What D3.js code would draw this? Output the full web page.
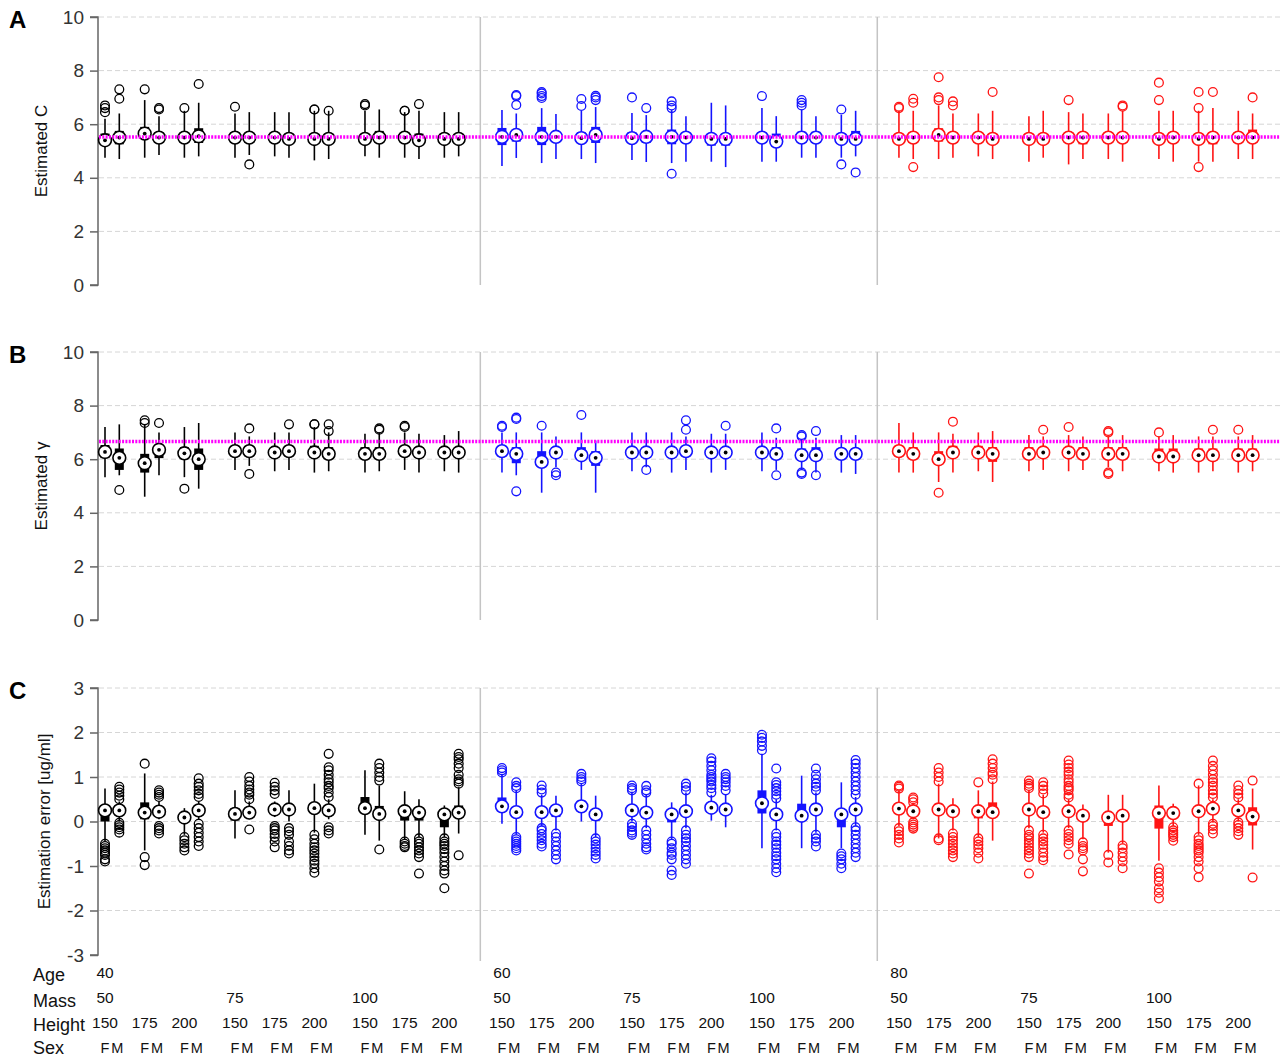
<!DOCTYPE html>
<html><head><meta charset="utf-8">
<script src="https://cdn.jsdelivr.net/npm/d3@7"></script>
<style>
body{margin:0;background:#fff}
svg{display:block;font-family:"Liberation Sans",Arial,Helvetica,sans-serif}
</style>
</head><body><div id="chart"></div><script>
// Factor levels (order: age > mass > height > sex)
const ages = [40, 60, 80];
const masses = [50, 75, 100];
const heights = [150, 175, 200];
const sexes = ["F", "M"];
const ageColors = ["#000000", "#1414ff", "#ff1414"];

// ---- Panel A: estimated C ----
const cMed = [5.4,5.5,5.65,5.5,5.5,5.55, 5.5,5.5,5.5,5.45,5.45,5.45, 5.45,5.5,5.5,5.4,5.45,5.45,
              5.53,5.6,5.53,5.53,5.48,5.6, 5.48,5.53,5.53,5.5,5.45,5.45, 5.5,5.35,5.5,5.5,5.45,5.45,
              5.45,5.5,5.6,5.5,5.5,5.45, 5.45,5.45,5.5,5.5,5.5,5.5, 5.45,5.5,5.45,5.5,5.5,5.5];
const cQ1 = [5.25,5.25,5.45,5.3,5.3,5.3, 5.3,5.3,5.35,5.3,5.3,5.3, 5.3,5.35,5.3,5.25,5.3,5.3,
             5.22,5.35,5.22,5.35,5.3,5.3, 5.3,5.3,5.25,5.3,5.2,5.2, 5.3,5.25,5.3,5.3,5.3,5.3,
             5.3,5.3,5.35,5.3,5.3,5.3, 5.3,5.3,5.3,5.25,5.3,5.3, 5.3,5.3,5.3,5.25,5.3,5.3];
const cQ3 = [5.65,5.75,5.9,5.7,5.7,5.85, 5.7,5.65,5.65,5.65,5.6,5.65, 5.6,5.75,5.65,5.65,5.65,5.6,
             5.86,5.72,5.9,5.7,5.7,5.9, 5.7,5.68,5.8,5.65,5.6,5.65, 5.7,5.65,5.72,5.72,5.65,5.75,
             5.65,5.7,5.85,5.7,5.65,5.65, 5.65,5.6,5.7,5.65,5.7,5.7, 5.65,5.7,5.65,5.7,5.7,5.8];
const cLo = [4.75,4.7,4.75,4.85,4.75,4.8, 4.75,4.85,4.8,4.75,4.65,4.7, 4.8,4.75,4.75,4.7,4.75,4.8,
             4.44,4.74,4.55,4.7,4.7,4.55, 4.66,4.59,4.55,4.6,4.6,4.4, 4.6,4.6,4.75,4.75,4.75,4.8,
             4.75,4.7,4.7,4.75,4.8,4.7, 4.6,4.75,4.5,4.7,4.7,4.6, 4.7,4.6,4.6,4.6,4.7,4.7];
const cHi = [6.2,6.4,6.9,6.3,6.5,6.8, 6.4,6.45,6.45,6.45,6.5,6.5, 6.5,6.55,6.45,6.5,6.45,6.45,
             6.53,6.4,6.6,6.38,6.5,6.64, 6.42,6.34,6.53,6.3,6.8,6.7, 6.6,6.3,6.55,6.3,6.35,6.5,
             6.5,6.5,6.7,6.4,6.4,6.5, 6.3,6.5,6.45,6.4,6.4,6.5, 6.5,6.5,6.5,6.6,6.5,6.4];
const cOut = [[6.45,6.6,6.7],[6.95,7.3],[7.3],[6.55,6.6],[6.6],[7.5],
              [6.65],[4.5],[],[],[6.55,6.55],[6.5],
              [6.7,6.75],[],[6.5,6.5],[6.75],[],[],
              [],[6.72,7.05,7.09],[6.98,7.05,7.15,7.2],[],[6.68,6.94],[6.9,7.0,7.06],
              [7.0],[6.6],[6.6,6.7,6.85,4.15],[],[],[],
              [7.05],[],[6.7,6.8,6.9],[],[6.55,4.5],[4.2],
              [6.6,6.65],[6.8,6.95,4.4],[6.9,7.0,7.75],[6.7,6.85],[],[7.2],
              [],[],[6.9],[],[],[6.65,6.7],
              [6.9,7.55],[],[6.6,7.2,4.4],[7.2],[],[7.0]];
const cTrue = 5.52;

// ---- Panel B: estimated gamma ----
const gMed = [6.27,6.05,5.85,6.35,6.22,6.0, 6.3,6.3,6.25,6.3,6.25,6.2, 6.2,6.2,6.3,6.25,6.25,6.25,
              6.3,6.2,5.9,6.25,6.15,6.05, 6.25,6.25,6.25,6.3,6.25,6.25, 6.25,6.2,6.15,6.15,6.2,6.2,
              6.3,6.2,6.0,6.25,6.25,6.2, 6.2,6.25,6.25,6.2,6.2,6.2, 6.1,6.1,6.15,6.15,6.15,6.15];
const gQ1 = [6.04,5.6,5.5,6.04,6.0,5.6, 6.1,6.1,6.05,6.1,6.05,6.0, 6.0,6.0,6.1,6.05,6.05,6.05,
             6.1,5.85,5.7,6.05,6.0,5.75, 6.05,6.05,6.05,6.1,6.05,6.05, 6.05,6.0,5.95,5.95,6.0,6.0,
             6.1,6.0,5.8,6.05,6.05,5.9, 6.0,6.05,6.05,6.0,6.0,6.0, 5.95,5.95,5.95,5.95,5.95,5.95];
const gQ3 = [6.53,6.4,6.2,6.46,6.45,6.4, 6.5,6.5,6.45,6.5,6.5,6.45, 6.45,6.45,6.5,6.45,6.45,6.45,
             6.5,6.45,6.3,6.45,6.45,6.3, 6.45,6.45,6.45,6.5,6.45,6.45, 6.45,6.45,6.4,6.45,6.4,6.4,
             6.5,6.45,6.3,6.5,6.5,6.45, 6.45,6.45,6.45,6.45,6.45,6.45, 6.4,6.4,6.4,6.4,6.4,6.4];
const gLo = [5.33,5.4,4.6,5.4,5.33,4.9, 5.6,5.75,5.55,5.6,5.5,5.55, 5.5,5.55,5.6,5.5,5.55,5.5,
             5.5,5.4,4.75,5.7,5.6,4.75, 5.55,5.7,5.5,5.6,5.5,5.6, 5.55,5.6,5.6,5.5,5.5,5.45,
             5.5,5.5,5.15,5.5,5.55,5.15, 5.55,5.6,5.55,5.6,5.7,5.55, 5.55,5.5,5.5,5.55,5.5,5.55];
const gHi = [7.2,7.3,7.3,7.0,7.2,7.35, 7.0,6.85,7.0,7.0,7.2,7.0, 6.95,7.0,7.0,6.95,6.9,7.05,
             7.0,7.0,7.0,6.85,7.0,6.7, 7.0,7.0,7.0,6.85,6.95,6.95, 7.0,6.8,6.75,6.8,6.9,6.9,
             7.35,7.0,7.0,6.95,7.0,7.05, 6.9,6.85,6.9,6.85,6.85,6.9, 6.85,6.9,6.85,6.85,6.85,6.9];
const gOut = [[],[4.85],[7.45,7.35],[7.35],[4.9],[],
              [],[7.15,5.45],[],[7.3],[7.3,7.3],[7.3,7.05],
              [],[7.15,7.1],[7.2,7.25],[],[],[],
              [7.2,7.25],[7.5,7.55,4.8],[7.25],[5.5,5.4],[7.65],[],
              [],[5.6],[],[7.1,7.45],[],[7.25],
              [],[7.15,5.4],[6.85,6.9,5.45,5.5],[7.05,5.4],[],[],
              [],[],[4.75],[7.4],[],[],
              [],[7.1],[7.2],[],[7.0,7.05,5.5,5.45],[],
              [7.0],[],[],[7.1],[7.1],[]];
const gTrue = 6.66;

// ---- Panel C: estimation error ----
const eMed = [0.25,0.25,0.2,0.22,0.09,0.25, 0.17,0.2,0.27,0.27,0.3,0.25, 0.3,0.17,0.23,0.2,0.16,0.2,
              0.34,0.21,0.21,0.25,0.34,0.16, 0.25,0.2,0.16,0.23,0.31,0.27, 0.41,0.16,0.13,0.27,0.16,0.27,
              0.29,0.23,0.27,0.23,0.23,0.21, 0.27,0.21,0.23,0.13,0.09,0.13, 0.19,0.19,0.23,0.29,0.25,0.11];
const eQ1 = [0.0,0.2,0.05,0.15,0.0,0.15, 0.02,0.15,0.2,0.2,0.2,0.2, 0.25,0.1,0.02,0.02,-0.13,0.13,
             0.3,0.15,0.15,0.1,0.3,0.02, 0.2,0.15,-0.02,0.15,0.25,0.2, 0.18,0.1,0.02,0.2,-0.13,0.2,
             0.2,0.2,0.15,0.15,0.07,0.15, 0.2,0.15,0.15,0.05,-0.1,0.0, -0.16,0.1,0.15,0.2,0.18,-0.09];
const eQ3 = [0.3,0.3,0.43,0.3,0.15,0.3, 0.3,0.28,0.35,0.35,0.38,0.3, 0.55,0.35,0.3,0.28,0.22,0.36,
             0.54,0.3,0.3,0.3,0.47,0.25, 0.3,0.28,0.22,0.3,0.38,0.35, 0.7,0.25,0.4,0.4,0.22,0.35,
             0.35,0.3,0.4,0.3,0.3,0.43, 0.35,0.3,0.3,0.2,0.15,0.2, 0.36,0.28,0.3,0.35,0.3,0.32];
const eLo = [-0.45,0.0,-0.65,0.05,-0.3,0.05, -0.38,0.05,0.1,0.0,-0.25,0.05, -0.3,-0.43,-0.4,-0.35,-0.35,-0.27,
             -0.05,-0.3,-0.1,-0.2,0.0,-0.35, 0.0,-0.15,-0.4,-0.15,0.02,-0.13, -0.6,-0.2,-0.6,-0.25,-0.6,-0.1,
             -0.1,0.05,-0.38,-0.2,-0.35,-0.43, -0.15,-0.25,-0.15,-0.4,-0.7,-0.5, -0.88,-0.1,-0.3,-0.02,0.0,-0.63];
const eHi = [0.74,0.45,1.08,0.45,0.3,0.45, 0.7,0.45,0.45,0.7,0.85,0.5, 1.15,0.81,0.68,0.5,0.36,0.77,
             1.05,0.7,0.6,0.58,0.85,0.58, 0.65,0.6,0.43,0.65,0.6,0.6, 1.52,0.5,1.03,0.65,0.88,0.55,
             0.7,0.4,0.85,0.52,0.7,0.9, 0.7,0.6,0.5,0.38,0.6,0.6, 0.81,0.4,0.81,0.5,0.5,0.74];
const eOut = [
  [-0.5,-0.55,-0.6,-0.65,-0.7,-0.75,-0.85,-0.9],
  [0.5,0.58,0.65,0.72,0.78,-0.03,-0.08,-0.13,-0.18,-0.25],
  [1.3,-0.8,-0.98],
  [0.55,0.6,0.65,0.7,-0.1,-0.15,-0.2,-0.27],
  [-0.35,-0.42,-0.5,-0.58,-0.65],
  [0.55,0.62,0.7,0.78,0.85,0.97,-0.05,-0.15,-0.25,-0.35,-0.45,-0.55],
  [],
  [0.5,0.6,0.65,0.72,0.8,0.9,1.0,-0.18],
  [0.62,0.7,0.78,0.87,-0.1,-0.15,-0.2,-0.28,-0.35,-0.45,-0.58],
  [-0.15,-0.22,-0.3,-0.45,-0.55,-0.65,-0.72],
  [-0.3,-0.4,-0.5,-0.58,-0.65,-0.72,-0.8,-0.88,-0.95,-1.05,-1.15],
  [0.55,0.65,0.75,0.8,0.88,0.95,1.05,1.15,1.22,1.52,-0.13,-0.2,-0.27],
  [],
  [0.92,1.0,1.1,1.2,1.3,-0.63],
  [-0.45,-0.5,-0.55,-0.58],
  [-0.38,-0.45,-0.5,-0.58,-0.65,-0.72,-0.8,-1.17],
  [-0.38,-0.45,-0.5,-0.55,-0.62,-0.7,-0.8,-0.9,-1.0,-1.1,-1.17,-1.5],
  [0.85,0.9,0.95,1.05,1.2,1.3,1.4,1.45,1.52,-0.76],
  [1.1,1.15,1.2],
  [0.75,0.8,0.88,-0.35,-0.4,-0.45,-0.5,-0.55,-0.6,-0.65],
  [0.65,0.72,0.81,-0.15,-0.2,-0.28,-0.35,-0.42,-0.5,-0.56],
  [-0.27,-0.35,-0.45,-0.55,-0.65,-0.75,-0.85],
  [0.9,0.95,1.0,1.07],
  [-0.38,-0.45,-0.52,-0.6,-0.68,-0.75,-0.83],
  [0.7,0.75,0.81,-0.05,-0.12,-0.2,-0.25,-0.3],
  [0.65,0.7,0.8,-0.2,-0.3,-0.4,-0.5,-0.58,-0.63],
  [-0.45,-0.5,-0.6,-0.7,-0.75,-0.85,-1.1,-1.2],
  [0.7,0.78,0.85,-0.2,-0.3,-0.38,-0.45,-0.55,-0.65,-0.75,-0.85,-0.95],
  [0.65,0.75,0.82,0.9,0.95,1.0,1.05,1.15,1.25,1.35,1.42],
  [0.7,0.8,0.88,0.95,1.0,1.07],
  [1.6,1.7,1.8,1.88,1.95],
  [0.52,0.6,0.68,0.75,0.82,0.88,1.19,-0.27,-0.35,-0.45,-0.52,-0.6,-0.7,-0.78,-0.85,-0.95,-1.05,-1.14],
  [],
  [0.7,0.78,0.85,0.95,1.05,1.19,-0.3,-0.38,-0.45,-0.56],
  [-0.72,-0.78,-0.85,-0.95,-1.05],
  [0.6,0.7,0.8,0.9,1.0,1.1,1.2,1.3,1.38,-0.13,-0.2,-0.3,-0.4,-0.5,-0.6,-0.7,-0.8],
  [0.74,0.78,0.81,-0.15,-0.22,-0.3,-0.38,-0.47],
  [0.43,0.5,0.54,-0.02,-0.07,-0.12,-0.16],
  [0.9,1.0,1.1,1.2,-0.38,-0.42],
  [-0.27,-0.35,-0.42,-0.5,-0.58,-0.65,-0.72,-0.8],
  [0.88,-0.38,-0.45,-0.52,-0.6,-0.7,-0.83],
  [0.95,1.05,1.1,1.2,1.3,1.4],
  [0.75,0.8,0.85,0.92,-0.2,-0.3,-0.35,-0.42,-0.5,-0.58,-0.65,-0.72,-0.8,-1.17],
  [0.63,0.72,0.8,0.88,-0.3,-0.38,-0.45,-0.52,-0.6,-0.7,-0.8,-0.87],
  [0.54,0.6,0.7,0.75,0.8,0.88,0.95,1.05,1.12,1.2,1.28,1.37,-0.2,-0.28,-0.35,-0.42,-0.5,-0.74],
  [-0.47,-0.55,-0.6,-0.65,-0.85,-1.12],
  [-0.75,-0.92],
  [-0.54,-0.6,-0.7,-0.8,-0.9,-1.05],
  [-1.05,-1.15,-1.25,-1.35,-1.5,-1.6,-1.73],
  [-0.13,-0.2,-0.25,-0.3,-0.35,-0.43],
  [0.85,-0.35,-0.42,-0.5,-0.55,-0.6,-0.65,-0.7,-0.8,-0.9,-1.05,-1.25],
  [0.54,0.62,0.7,0.8,0.88,0.95,1.05,1.15,1.25,1.37,-0.05,-0.1,-0.18,-0.27],
  [0.54,0.62,0.7,0.81,-0.02,-0.08,-0.15,-0.22,-0.3],
  [0.92,-1.26]
];

// Tick values
const ticksAB = [0, 2, 4, 6, 8, 10];
const ticksC = [-3, -2, -1, 0, 1, 2, 3];

// ---------------------------------------------------------------
const W = 1285, H = 1061;
const svg = d3.select("#chart").append("svg").attr("width", W).attr("height", H);

// Group layout in slot units (one unit = spacing between the F and M boxes)
const slot = (a, m, h, s) => a * 27.76 + m * 9.09 + h * 2.776 + s;
const x = d3.scaleLinear().domain([0, 1]).range([105, 119.3]);
const plotLeft = 98, plotRight = 1280;

// Build list of box descriptors
const boxes = [];
ages.forEach((age, a) => masses.forEach((mass, m) => heights.forEach((ht, h) => sexes.forEach((sx, s) => {
  boxes.push({a, m, h, s, idx: boxes.length, pos: slot(a, m, h, s), color: ageColors[a]});
}))));

const panels = [
  {letter: "A", label: "Estimated C", top: 17, bottom: 285, domain: [0, 10], ticks: ticksAB,
   med: cMed, q1: cQ1, q3: cQ3, lo: cLo, hi: cHi, out: cOut, ref: cTrue, lx: 47},
  {letter: "B", label: "Estimated \u03b3", top: 352, bottom: 620, domain: [0, 10], ticks: ticksAB,
   med: gMed, q1: gQ1, q3: gQ3, lo: gLo, hi: gHi, out: gOut, ref: gTrue, lx: 47},
  {letter: "C", label: "Estimation error [ug/ml]", top: 688, bottom: 955, domain: [-3, 3], ticks: ticksC,
   med: eMed, q1: eQ1, q3: eQ3, lo: eLo, hi: eHi, out: eOut, ref: null, lx: 50}
];

// Separators between age groups
const sepX = [0, 1].map(a => x((slot(a, 2, 2, 1) + slot(a + 1, 0, 0, 0)) / 2));

panels.forEach(p => {
  const y = d3.scaleLinear().domain(p.domain).range([p.bottom, p.top]);
  const g = svg.append("g");

  // dashed horizontal grid
  g.selectAll("line.grid").data(p.ticks.filter(t => t !== p.domain[0])).join("line")
    .attr("x1", plotLeft + 1).attr("x2", plotRight)
    .attr("y1", d => y(d)).attr("y2", d => y(d))
    .attr("stroke", "#d6d6d6").attr("stroke-width", 1).attr("stroke-dasharray", "5,3");

  // age-group separators
  g.selectAll("line.sep").data(sepX).join("line")
    .attr("x1", d => d).attr("x2", d => d)
    .attr("y1", p.top).attr("y2", p.letter === "C" ? p.bottom + 6 : p.bottom)
    .attr("stroke", "#c4c4c4").attr("stroke-width", 1.5);

  // y axis
  const axis = d3.axisLeft(y).tickValues(p.ticks).tickSize(8).tickPadding(6).tickFormat(d => String(d));
  const ax = g.append("g").attr("transform", `translate(${plotLeft},0)`).call(axis);
  ax.select(".domain").attr("stroke", "#666").attr("stroke-width", 1.5).attr("d", `M-8,${p.top}H0V${p.bottom}H-8`);
  ax.selectAll(".tick line").attr("stroke", "#666").attr("stroke-width", 1.5);
  ax.selectAll(".tick text").attr("font-size", 19).attr("fill", "#333")
    .attr("font-family", "'Liberation Sans',Arial,sans-serif");

  // axis title
  g.append("text").attr("transform", `translate(${p.lx},${(p.top + p.bottom) / 2}) rotate(-90)`)
    .attr("text-anchor", "middle").attr("font-size", 17).attr("fill", "#111").text(p.label);

  // panel letter
  g.append("text").attr("x", 9).attr("y", p.top + 11).attr("font-size", 24).attr("font-weight", "bold")
    .attr("fill", "#000").text(p.letter);

  // boxes
  const bg = g.selectAll("g.box").data(boxes).join("g").attr("class", "box");
  bg.append("line")
    .attr("x1", d => x(d.pos)).attr("x2", d => x(d.pos))
    .attr("y1", d => y(p.lo[d.idx])).attr("y2", d => y(p.hi[d.idx]))
    .attr("stroke", d => d.color).attr("stroke-width", 1.6);
  bg.append("rect")
    .attr("x", d => x(d.pos) - 4.5).attr("width", 9)
    .attr("y", d => y(p.q3[d.idx])).attr("height", d => Math.max(1, y(p.q1[d.idx]) - y(p.q3[d.idx])))
    .attr("fill", d => d.color);
  bg.selectAll("circle.out").data(d => p.out[d.idx].map(v => ({v, d}))).join("circle")
    .attr("cx", o => x(o.d.pos)).attr("cy", o => y(o.v)).attr("r", 4.4)
    .attr("fill", "none").attr("stroke", o => o.d.color).attr("stroke-width", 1.3);
  bg.append("circle")
    .attr("cx", d => x(d.pos)).attr("cy", d => y(p.med[d.idx])).attr("r", 6.4)
    .attr("fill", "#fff").attr("stroke", d => d.color).attr("stroke-width", 1.6);
  bg.append("circle")
    .attr("cx", d => x(d.pos)).attr("cy", d => y(p.med[d.idx])).attr("r", 1.9)
    .attr("fill", "#000");

  // reference (true value) line
  if (p.ref !== null) {
    g.append("line").attr("x1", plotLeft + 1).attr("x2", plotRight)
      .attr("y1", y(p.ref)).attr("y2", y(p.ref))
      .attr("stroke", "#ff00ff").attr("stroke-width", 3.5).attr("stroke-dasharray", "2,1.3");
  }
});

// ---- Factor labels under the plots ----
const lab = svg.append("g").attr("fill", "#111");
const rows = [
  {name: "Age", y: 981}, {name: "Mass", y: 1007}, {name: "Height", y: 1031}, {name: "Sex", y: 1054}
];
lab.selectAll("text.row").data(rows).join("text")
  .attr("x", 33).attr("y", d => d.y).attr("font-size", 18).text(d => d.name);

const firstOf = boxes.filter(b => b.m === 0 && b.h === 0 && b.s === 0);
lab.selectAll("text.age").data(firstOf).join("text")
  .attr("x", d => x(d.pos)).attr("y", 978).attr("text-anchor", "middle").attr("font-size", 15.5)
  .text(d => ages[d.a]);
lab.selectAll("text.mass").data(boxes.filter(b => b.h === 0 && b.s === 0)).join("text")
  .attr("x", d => x(d.pos)).attr("y", 1003).attr("text-anchor", "middle").attr("font-size", 15.5)
  .text(d => masses[d.m]);
lab.selectAll("text.height").data(boxes.filter(b => b.s === 0)).join("text")
  .attr("x", d => x(d.pos)).attr("y", 1028).attr("text-anchor", "middle").attr("font-size", 15.5)
  .text(d => heights[d.h]);
lab.selectAll("text.sex").data(boxes).join("text")
  .attr("x", d => x(d.pos) - d.s * 2).attr("y", 1053).attr("text-anchor", "middle").attr("font-size", 14.5)
  .text(d => sexes[d.s]);
</script></body></html>
